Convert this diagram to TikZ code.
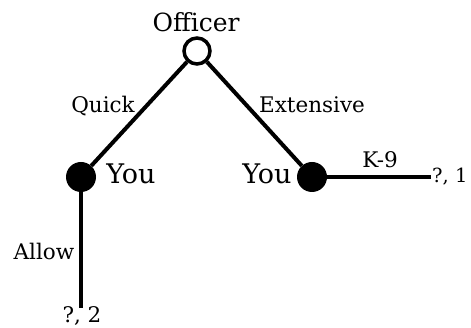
\documentclass[tikz,border=0pt]{standalone}
\usepackage{fontspec}
\setmainfont{DejaVu Serif}
\begin{document}
\begin{tikzpicture}[x=1pt,y=-1pt,
  edge/.style={line width=4pt},
  hollow/.style={circle,draw,line width=3.5pt,fill=white,minimum size=26pt,inner sep=0pt},
  solid/.style={circle,fill=black,minimum size=30pt,inner sep=0pt},
  big/.style={font=\fontsize{25}{27}\selectfont,anchor=base,inner sep=0pt},
  lbl/.style={font=\fontsize{21.5}{23}\selectfont,anchor=base,inner sep=0pt}]
\useasboundingbox (0,0) rectangle (471,328);
\node[hollow] (O) at (197,51) {};
\node[solid] (L) at (81,177) {};
\node[solid] (R) at (312,177) {};
\coordinate (T1) at (431,177);
\coordinate (T2) at (81,308);
\draw[edge] (O) -- (L);
\draw[edge] (O) -- (R);
\draw[edge] (L) -- (T2);
\draw[edge] (R) -- (T1);
\node[big] (officer) at (196,32) {Officer};
\node[big,font=\fontsize{27}{29}\selectfont] (youL) at (131,184) {You};
\node[big,font=\fontsize{27}{29}\selectfont] (youR) at (267,184) {You};
\node[lbl] (quick) at (103,113) {Quick};
\node[lbl] (ext) at (312,113) {Extensive};
\node[lbl] (allow) at (44,260) {Allow};
\node[lbl] (k9) at (380,168) {K-9};
\node[lbl,font=\fontsize{19.5}{21}\selectfont,anchor=base west] (p1) at (432,183) {?, 1};
\node[lbl] (p2) at (82,323) {?, 2};
\end{tikzpicture}
\end{document}
